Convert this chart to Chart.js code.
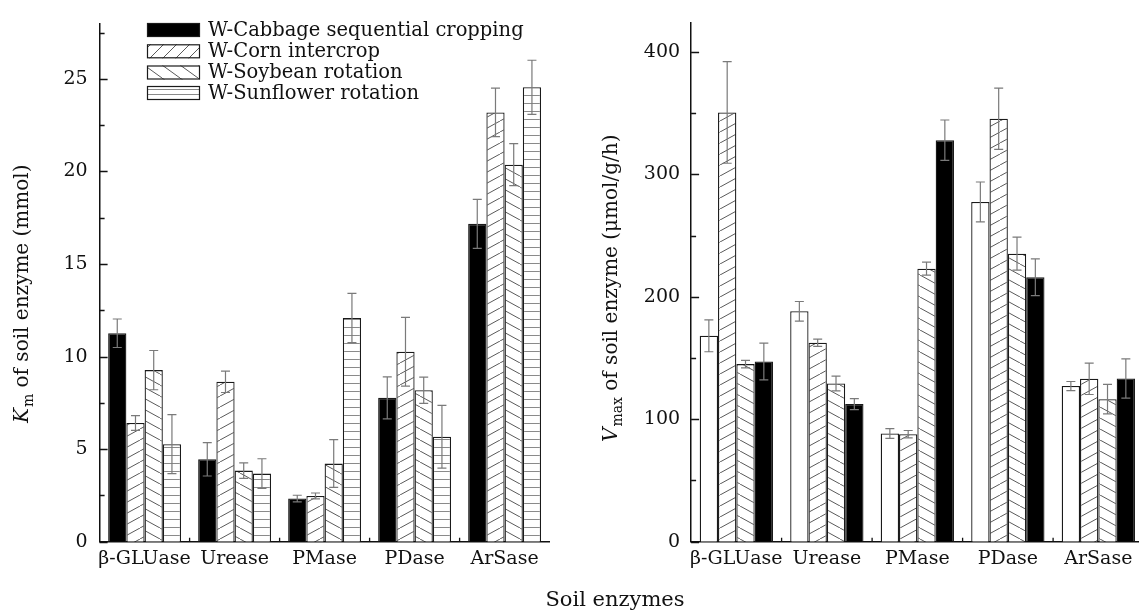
<!DOCTYPE html>
<html>
<head>
<meta charset="utf-8">
<script src="https://cdn.jsdelivr.net/npm/chart.js@4"></script>
<style>
	html, body { margin: 0; padding: 0; background: #fff; overflow: hidden; }
	body { width: 1139px; height: 613px; position: relative; }
	#leftBox { position: absolute; left: 0; top: 0; width: 560px; height: 613px; }
	#rightBox { position: absolute; left: 560px; top: 0; width: 585px; height: 613px; }
	#xTitle {
		position: absolute; left: 515px; top: 589px; width: 200px;
		text-align: center; font: 21px "DejaVu Serif"; line-height: 21px; color: #111;
	}
</style>
</head>
<body>
<div id="leftBox"><canvas id="kmChart" width="560" height="613"></canvas></div>
<div id="rightBox"><canvas id="vmaxChart" width="585" height="613"></canvas></div>
<div id="xTitle">Soil enzymes</div>
<script>
const categories = ["β-GLUase", "Urease", "PMase", "PDase", "ArSase"];
const seriesNames = [
	"W-Cabbage sequential cropping",
	"W-Corn intercrop",
	"W-Soybean rotation",
	"W-Sunflower rotation",
];

// Km (mmol), left panel
const cabbageKm = [11.26, 4.45, 2.33, 7.77, 17.17];
const cornKm = [6.41, 8.64, 2.47, 10.26, 23.19];
const soybeanKm = [9.27, 3.84, 4.22, 8.18, 20.37];
const sunflowerKm = [5.27, 3.68, 12.08, 5.67, 24.55];
const cabbageKmErr = [0.77, 0.9, 0.18, 1.13, 1.32];
const cornKmErr = [0.4, 0.58, 0.16, 1.86, 1.31];
const soybeanKmErr = [1.06, 0.42, 1.29, 0.71, 1.13];
const sunflowerKmErr = [1.59, 0.8, 1.33, 1.7, 1.46];

// Vmax (umol/g/h), right panel
const cabbageVmax = [168.1, 188.1, 88.3, 277.4, 127.1];
const cornVmax = [350.5, 162.4, 87.8, 345.4, 133];
const soybeanVmax = [145, 129.2, 222.9, 235.2, 116.4];
const sunflowerVmax = [147.2, 112.4, 327.8, 215.9, 133.2];
const cabbageVmaxErr = [13, 8, 4, 16.3, 3.7];
const cornVmaxErr = [41.5, 3, 3, 25, 12.8];
const soybeanVmaxErr = [3, 6, 5.3, 13.4, 12];
const sunflowerVmaxErr = [15, 4.5, 16.5, 15, 16];

const kmTicks = { min: 0, max: 28, step: 2.5, labelEvery: 5 };
const vmaxTicks = { min: 0, max: 424, step: 50, labelEvery: 100 };

const FONT = "DejaVu Serif";

function makeHatch(kind, w, h) {
	const c = document.createElement("canvas");
	c.width = w;
	c.height = h;
	const g = c.getContext("2d");
	g.fillStyle = "#fff";
	g.fillRect(0, 0, w, h);
	g.strokeStyle = kind === "horiz" ? "#8a8a8a" : "#5a5a5a";
	g.lineWidth = 1;
	g.beginPath();
	if (kind === "fwd") {
		g.moveTo(-w, 2 * h);
		g.lineTo(2 * w, -h);
	} else if (kind === "back") {
		g.moveTo(-w, -h);
		g.lineTo(2 * w, 2 * h);
	} else {
		g.moveTo(0, h - 0.5);
		g.lineTo(w, h - 0.5);
	}
	g.stroke();
	return document.createElement("canvas").getContext("2d").createPattern(c, "repeat");
}

const fills = {
	black: "#000",
	white: "#fff",
	fwd: makeHatch("fwd", 20, 11),
	back: makeHatch("back", 20, 11),
	horiz: makeHatch("horiz", 8, 8),
};

// the legend swatches use a tighter hatch, as in the original figure
const legendFills = [
	"#000",
	makeHatch("fwd", 13, 13),
	makeHatch("back", 18, 13),
	makeHatch("horiz", 8, 5),
];

function barSet(label, data, errors, fill) {
	return {
		label: label,
		data: data,
		errorBars: errors,
		backgroundColor: fill,
		borderColor: "#1a1a1a",
		borderWidth: 1.3,
		categoryPercentage: 0.81,
		barPercentage: 1.0,
	};
}

const errorBarPlugin = {
	id: "errorBars",
	afterDatasetsDraw(chart) {
		const ctx = chart.ctx;
		const y = chart.scales.y;
		ctx.save();
		ctx.strokeStyle = "#7a7a7a";
		ctx.lineWidth = 1.2;
		chart.data.datasets.forEach((ds, i) => {
			chart.getDatasetMeta(i).data.forEach((bar, j) => {
				const v = ds.data[j];
				const e = ds.errorBars[j];
				const top = y.getPixelForValue(v + e);
				const bot = y.getPixelForValue(v - e);
				ctx.beginPath();
				ctx.moveTo(bar.x, top);
				ctx.lineTo(bar.x, bot);
				ctx.moveTo(bar.x - 4.5, top);
				ctx.lineTo(bar.x + 4.5, top);
				ctx.moveTo(bar.x - 4.5, bot);
				ctx.lineTo(bar.x + 4.5, bot);
				ctx.stroke();
			});
		});
		ctx.restore();
	},
};

const innerTicksPlugin = {
	id: "innerTicks",
	afterDraw(chart, args, opts) {
		const ctx = chart.ctx;
		const area = chart.chartArea;
		const y = chart.scales.y;
		const x = chart.scales.x;
		ctx.save();
		ctx.strokeStyle = "#111";
		ctx.lineWidth = 1.3;
		ctx.beginPath();
		y.ticks.forEach((t) => {
			const py = Math.round(y.getPixelForValue(t.value)) + 0.5;
			const len = t.value % opts.labelEvery === 0 ? 8 : 5;
			ctx.moveTo(area.left, py);
			ctx.lineTo(area.left + len, py);
		});
		for (let k = 1; k < categories.length; k++) {
			const px = x.getPixelForValue(k - 0.5);
			ctx.moveTo(px, area.bottom);
			ctx.lineTo(px, area.bottom - 4);
		}
		ctx.stroke();
		ctx.restore();
	},
};

const yTitlePlugin = {
	id: "yTitle",
	afterDraw(chart, args, opts) {
		const ctx = chart.ctx;
		ctx.save();
		ctx.translate(opts.x, opts.y);
		ctx.rotate(-Math.PI / 2);
		ctx.fillStyle = "#111";
		ctx.textBaseline = "alphabetic";
		ctx.textAlign = "left";
		ctx.font = "italic 20px " + FONT;
		ctx.fillText(opts.symbol, 0, 0);
		let pos = ctx.measureText(opts.symbol).width + 1;
		ctx.font = "14px " + FONT;
		ctx.fillText(opts.sub, pos, 5);
		pos += ctx.measureText(opts.sub).width;
		ctx.font = "20px " + FONT;
		ctx.fillText(opts.rest, pos, 0);
		ctx.restore();
	},
};

const legendPlugin = {
	id: "boxLegend",
	afterDraw(chart) {
		const ctx = chart.ctx;
		const rowTops = [23, 44.3, 65.5, 86];
		ctx.save();
		chart.data.datasets.forEach((ds, i) => {
			const top = rowTops[i];
			ctx.fillStyle = legendFills[i];
			ctx.fillRect(147, top, 53, 14);
			ctx.strokeStyle = "#1a1a1a";
			ctx.lineWidth = 1.2;
			ctx.strokeRect(147.5, top + 0.5, 52, 13);
			ctx.fillStyle = "#111";
			ctx.font = "19.5px " + FONT;
			ctx.textBaseline = "middle";
			ctx.fillText(ds.label, 208, top + 7.5);
		});
		ctx.restore();
	},
};

function buildOptions(tickCfg, yWidth, padRight, labelPad, titleCfg) {
	return {
		responsive: false,
		animation: false,
		devicePixelRatio: 1,
		layout: { padding: { top: 13, right: padRight, left: 0, bottom: 0 } },
		plugins: {
			legend: { display: false },
			tooltip: { enabled: false },
			innerTicks: { labelEvery: tickCfg.labelEvery },
			yTitle: titleCfg,
		},
		scales: {
			x: {
				grid: { display: false, drawTicks: false },
				border: { display: true, color: "#111", width: 1.5 },
				ticks: {
					autoSkip: false,
					maxRotation: 0,
					padding: 6,
					color: "#111",
					font: { family: FONT, size: 19 },
				},
				afterFit(scale) {
					scale.height = 613 - 541.7;
				},
			},
			y: {
				min: tickCfg.min,
				max: tickCfg.max,
				grid: { display: false, drawTicks: false },
				border: { display: true, color: "#111", width: 1.5 },
				ticks: {
					stepSize: tickCfg.step,
					includeBounds: false,
					padding: labelPad,
					color: "#111",
					font: { family: FONT, size: 19 },
					callback: (v) => (v % tickCfg.labelEvery === 0 ? v : ""),
				},
				afterFit(scale) {
					scale.width = yWidth;
				},
			},
		},
	};
}

new Chart(document.getElementById("kmChart"), {
	type: "bar",
	data: {
		labels: categories,
		datasets: [
			barSet(seriesNames[0], cabbageKm, cabbageKmErr, fills.black),
			barSet(seriesNames[1], cornKm, cornKmErr, fills.fwd),
			barSet(seriesNames[2], soybeanKm, soybeanKmErr, fills.back),
			barSet(seriesNames[3], sunflowerKm, sunflowerKmErr, fills.horiz),
		],
	},
	options: buildOptions(kmTicks, 99.6, 10.4, 12, {
		x: 28, y: 423, symbol: "K", sub: "m", rest: " of soil enzyme (mmol)",
	}),
	plugins: [errorBarPlugin, innerTicksPlugin, yTitlePlugin, legendPlugin],
});

new Chart(document.getElementById("vmaxChart"), {
	type: "bar",
	data: {
		labels: categories,
		datasets: [
			barSet(seriesNames[0], cabbageVmax, cabbageVmaxErr, fills.white),
			barSet(seriesNames[1], cornVmax, cornVmaxErr, fills.fwd),
			barSet(seriesNames[2], soybeanVmax, soybeanVmaxErr, fills.back),
			barSet(seriesNames[3], sunflowerVmax, sunflowerVmaxErr, fills.black),
		],
	},
	options: buildOptions(vmaxTicks, 131.1, 1.4, 11, {
		x: 57, y: 442, symbol: "V", sub: "max", rest: " of soil enzyme (μmol/g/h)",
	}),
	plugins: [errorBarPlugin, innerTicksPlugin, yTitlePlugin],
});
</script>
</body>
</html>
